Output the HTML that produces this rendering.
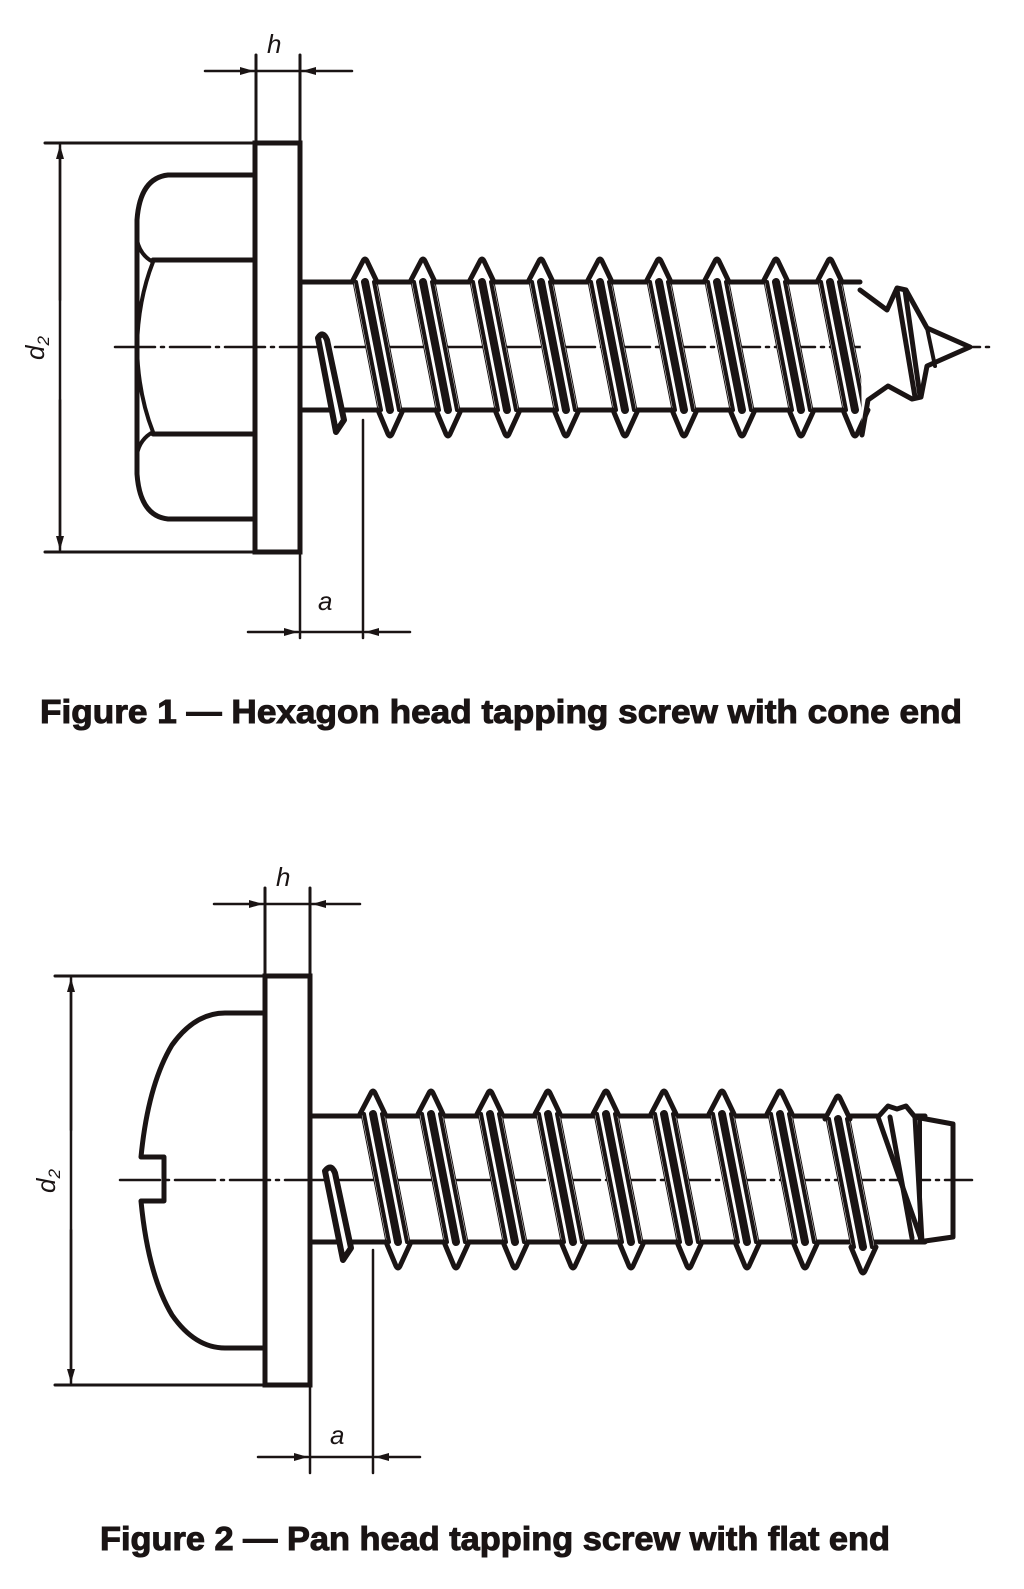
<!DOCTYPE html>
<html><head><meta charset="utf-8"><style>
html,body{margin:0;padding:0;background:#fff;}
svg{display:block;}
</style></head><body>
<svg width="1024" height="1589" viewBox="0 0 1024 1589" xmlns="http://www.w3.org/2000/svg">
<defs>
<g id="th">
  <path d="M-12,24 L0,0 L12,24 L37,152 L25,178 L13,152 Z" fill="#fff"/>
  <path d="M-13,24 L-2,3 Q0,-1 2,3 L12,24" fill="none" stroke="#1a1414" stroke-width="5" stroke-linejoin="round"/>
  <path d="M-9,24 L16,152 M9,24 L34,152" stroke="#1a1414" stroke-width="4"/>
  <path d="M0,24 L25,152" stroke="#1a1414" stroke-width="8"/>
  <path d="M13,152 L23,176 Q25,180 27,176 L38,152" fill="none" stroke="#1a1414" stroke-width="5" stroke-linejoin="round"/>
</g>
<marker id="ar" markerWidth="14" markerHeight="8" refX="14" refY="4" orient="auto" markerUnits="userSpaceOnUse">
  <path d="M0,0 L14,4 L0,8 Z" fill="#1a1414"/>
</marker>
</defs>
<g stroke="#1a1414" fill="none" stroke-linecap="round">
<!-- ===== FIGURE 1 ===== -->
<path d="M115,347 H990" stroke-width="2.5" stroke-dasharray="40,6,3,6"/>
<rect x="255" y="143" width="45" height="409" stroke-width="5"/>
<path d="M255,175 H168 Q140,178 137,220 V474 Q140,516 168,519 H255" stroke-width="5"/>
<path d="M153,260 H255 M153,434 H255" stroke-width="5"/>
<path d="M137,240 Q140,255 153,262 Q138,300 137,347 Q138,394 153,432 Q140,439 137,454" stroke-width="4"/>
<path d="M300,282 H860 M300,410 H850" stroke-width="5"/>
<path d="M318,338 Q323,330 327,340 L344,420 L336,432 Z" stroke-width="6" fill="#fff" stroke-linejoin="round"/>
<use href="#th" x="365" y="258"/>
<use href="#th" x="423" y="258"/>
<use href="#th" x="482" y="258"/>
<use href="#th" x="541" y="258"/>
<use href="#th" x="600" y="258"/>
<use href="#th" x="659" y="258"/>
<use href="#th" x="717" y="258"/>
<use href="#th" x="776" y="258"/>
<use href="#th" x="830" y="258"/>
<path d="M860,290 L887,310 L897,288 L906,290 L927,328 L970,347 L927,366 L921,397 L912,399 L888,386 L868,400 L862,435" stroke-width="5" stroke-linejoin="round" fill="#fff"/>
<path d="M897,290 L915,397 M905,290 L920,396" stroke-width="5"/>
<path d="M927,328 L935,366" stroke-width="4"/>
<path d="M45,143 H255 M45,552 H255" stroke-width="3"/>
<path d="M60,150 V545" stroke-width="2.5"/>
<path d="M60,300 V145" stroke-width="2.5" marker-end="url(#ar)"/>
<path d="M60,400 V550" stroke-width="2.5" marker-end="url(#ar)"/>
<path d="M256,55 V143 M300,55 V143" stroke-width="3"/>
<path d="M205,71 H254" stroke-width="2.5" marker-end="url(#ar)"/>
<path d="M352,71 H302" stroke-width="2.5" marker-end="url(#ar)"/>
<path d="M256,71 H300" stroke-width="2.5"/>
<path d="M300,552 V638 M363,420 V638" stroke-width="2.5"/>
<path d="M248,632 H298" stroke-width="2.5" marker-end="url(#ar)"/>
<path d="M410,632 H365" stroke-width="2.5" marker-end="url(#ar)"/>
<path d="M300,632 H363" stroke-width="2.5"/>

<!-- ===== FIGURE 2 ===== -->
<path d="M120,1180 H972" stroke-width="2.5" stroke-dasharray="40,6,3,6"/>
<rect x="265" y="976" width="45" height="409" stroke-width="5"/>
<path d="M263,1013 H225 Q195,1013 172,1045 Q148,1085 141,1157 H164 V1201 H141 Q148,1275 172,1315 Q195,1348 225,1348 H263" stroke-width="5" stroke-linejoin="round"/>
<path d="M310,1116 H925 M310,1242 H925" stroke-width="5"/>
<path d="M325,1171 Q331,1163 335,1173 L351,1248 L343,1260 Z" stroke-width="6" fill="#fff" stroke-linejoin="round"/>
<use href="#th" x="373" y="1090"/>
<use href="#th" x="431" y="1090"/>
<use href="#th" x="490" y="1090"/>
<use href="#th" x="548" y="1090"/>
<use href="#th" x="606" y="1090"/>
<use href="#th" x="664" y="1090"/>
<use href="#th" x="722" y="1090"/>
<use href="#th" x="780" y="1090"/>
<use href="#th" x="838" y="1095"/>
<path d="M878,1117 L888,1106 L897,1109 L906,1106 L915,1117 L922,1242 Z" fill="#fff" stroke-width="5" stroke-linejoin="round"/>
<path d="M890,1117 L912,1238" stroke-width="5"/>
<path d="M915,1117 L953,1124 V1237 L918,1242" stroke-width="5" stroke-linejoin="round"/>
<path d="M920,1117 V1242" stroke-width="4"/>
<path d="M55,976 H265 M55,1385 H265" stroke-width="3"/>
<path d="M71,983 V1378" stroke-width="2.5"/>
<path d="M71,1130 V978" stroke-width="2.5" marker-end="url(#ar)"/>
<path d="M71,1230 V1383" stroke-width="2.5" marker-end="url(#ar)"/>
<path d="M265,888 V976 M310,888 V976" stroke-width="3"/>
<path d="M214,904 H263" stroke-width="2.5" marker-end="url(#ar)"/>
<path d="M360,904 H312" stroke-width="2.5" marker-end="url(#ar)"/>
<path d="M265,904 H310" stroke-width="2.5"/>
<path d="M310,1385 V1473 M373,1250 V1473" stroke-width="2.5"/>
<path d="M258,1457 H308" stroke-width="2.5" marker-end="url(#ar)"/>
<path d="M420,1457 H375" stroke-width="2.5" marker-end="url(#ar)"/>
<path d="M310,1457 H373" stroke-width="2.5"/>
</g>
<g fill="#1a1414" font-family="'Liberation Sans',sans-serif">
<text x="267" y="53" font-size="26" font-style="italic">h</text>
<text x="276" y="886" font-size="26" font-style="italic">h</text>
<text x="318" y="610" font-size="26" font-style="italic">a</text>
<text x="330" y="1444" font-size="26" font-style="italic">a</text>
<text transform="translate(44,360) rotate(-90)" font-size="26" font-style="italic">d<tspan font-size="17" dy="5">2</tspan></text>
<text transform="translate(55,1193) rotate(-90)" font-size="26" font-style="italic">d<tspan font-size="17" dy="5">2</tspan></text>
<text x="40" y="723" font-size="33" font-weight="bold" stroke="#1a1414" stroke-width="1" textLength="922" lengthAdjust="spacingAndGlyphs">Figure 1 — Hexagon head tapping screw with cone end</text>
<text x="100" y="1550" font-size="33" font-weight="bold" stroke="#1a1414" stroke-width="1" textLength="790" lengthAdjust="spacingAndGlyphs">Figure 2 — Pan head tapping screw with flat end</text>
</g>
</svg>
</body></html>
